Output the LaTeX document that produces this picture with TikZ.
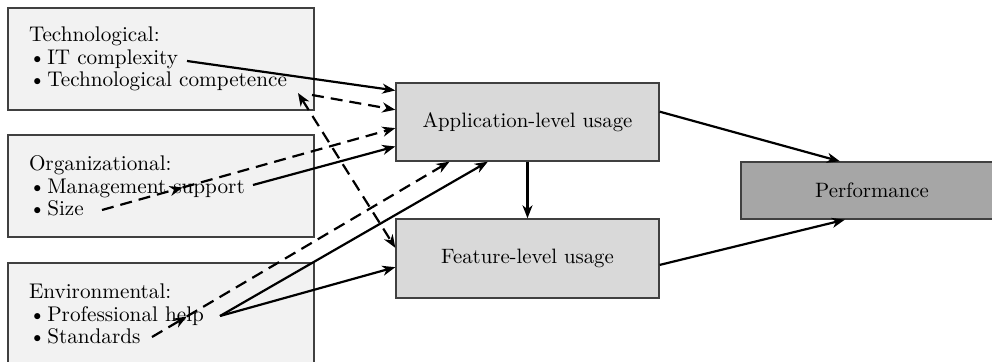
\documentclass[tikz,border=0pt]{standalone}
\usetikzlibrary{arrows.meta,calc}
\newcommand{\itembullet}{\textbullet\kern0.9pt}
\begin{document}
\begin{tikzpicture}[x=0.5pt,y=-0.5pt,
  >={Stealth[length=6.5pt,width=5pt,inset=2pt]},
  txt/.style={font=\fontsize{10.4pt}{11.25pt}\selectfont},
  factor/.style={txt, font=\fontsize{10.6pt}{11.25pt}\selectfont,
    draw=black!75, line width=0.7pt, fill=black!5,
    minimum width=153pt, minimum height=51pt, text width=132pt,
    inner xsep=10.5pt, align=left},
  usage/.style={txt, draw=black!75, line width=0.7pt, fill=black!15,
    minimum width=131.5pt, minimum height=39pt},
  perfbox/.style={usage, fill=black!35},
  link/.style={line width=1.1pt, ->},
  dlink/.style={link, dash pattern=on 6pt off 3.5pt},
]
\useasboundingbox (0,0) rectangle (992,362);
\clip (0,0) rectangle (992,362);

% determinant groups
\node[factor] (tech) at (161,59)
  {Technological:\\ \itembullet IT complexity\\ \itembullet Technological competence};
\node[factor] (org) at (161,186)
  {Organizational:\\ \itembullet Management support\\ \itembullet Size};
\node[factor] (env) at (161,314)
  {Environmental:\\ \itembullet Professional help\\ \itembullet Standards};

% usage levels and outcome
\node[usage] (app) at (527.5,122) {Application-level usage};
\node[usage, minimum height=39.5pt] (feat) at (527.5,258.5) {Feature-level usage};
\node[perfbox, minimum width=131pt, minimum height=28.5pt] (perf) at (872,190.5) {Performance};

% start points next to the individual factors
\coordinate (itc) at (187,61);
\coordinate (tcA) at (312,95);
\coordinate (tcB) at (298,93);
\coordinate (mgmt) at (253,185);
\coordinate (size) at (102,210);
\coordinate (help) at (220,316);
\coordinate (std) at (152,337);

% entry points on the usage boxes
\coordinate (appW1) at ($(app.north west)!0.103!(app.south west)$);
\coordinate (appW2) at ($(app.north west)!0.346!(app.south west)$);
\coordinate (appW3) at ($(app.north west)!0.577!(app.south west)$);
\coordinate (appW4) at ($(app.north west)!0.808!(app.south west)$);
\coordinate (appS1) at ($(app.south west)!0.205!(app.south east)$);
\coordinate (appS2) at ($(app.south west)!0.35!(app.south east)$);
\coordinate (featW1) at ($(feat.north west)!0.367!(feat.south west)$);
\coordinate (featW2) at ($(feat.north west)!0.608!(feat.south west)$);

% marks part-way along the dashed links
\coordinate (m1) at ($(size)!0.275!(appW3)$);
\coordinate (m2) at ($(std)!0.117!(appS1)$);

% technological factors
\draw[link] (itc) -- (appW1);
\draw[dlink] (tcA) -- (appW2);
\draw[dlink, <->] (tcB) -- (featW1);

% organizational factors
\draw[dlink] (size) -- (m1);
\draw[dlink] (m1) -- (appW3);
\draw[link] (mgmt) -- (appW4);

% environmental factors
\draw[dlink] (std) -- (m2);
\draw[dlink] (m2) -- (appS1);
\draw[link] (help) -- (appS2);
\draw[link] (help) -- (featW2);

% usage to performance
\draw[link] (app.south) -- (feat.north);
\draw[link] ($(app.north east)!0.37!(app.south east)$) -- ($(perf.north west)!0.378!(perf.north east)$);
\draw[link] ($(feat.north east)!0.58!(feat.south east)$) -- ($(perf.south west)!0.397!(perf.south east)$);
\end{tikzpicture}
\end{document}
